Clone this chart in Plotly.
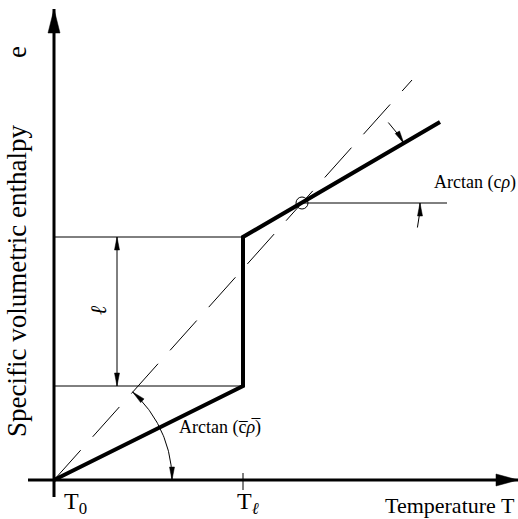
import numpy as np
import plotly.graph_objects as go

FONT = "Liberation Serif"

# ---- schematic data (drawing units: T horizontal, e vertical) ----
curve_T = [0, 189, 189, 386]          # enthalpy curve: solid, melting, liquid
curve_e = [0, 94, 243, 358]
T_l = 189                             # melting temperature
e_solid = 94                          # enthalpy at start of melting
e_liquid = 243                        # enthalpy at end of melting
ref_T = [0, 358]                      # dashed reference line
ref_e = [0, 400]
cross_T, cross_e = 248, 277           # intersection point (circle)
horiz_end_T = 393                     # horizontal construction line end
dim_T = 63                            # latent heat dimension line position
x_axis_T = [-26, 464]
y_axis_e = [-17, 471]
tick_e = [-10, 7]
arc_low_r = 118
arc_up_r = 118

fig = go.Figure()

def line(xs, ys, w=1, dash=None):
    fig.add_trace(go.Scatter(x=xs, y=ys, mode="lines",
                             line=dict(color="black", width=w, dash=dash),
                             hoverinfo="skip", showlegend=False))

def head(tip, d, length, width):
    d = np.array(d, float); d /= np.linalg.norm(d)
    n = np.array([-d[1], d[0]])
    tip = np.array(tip, float)
    base = tip - d * length
    p1 = base + n * width / 2
    p2 = base - n * width / 2
    fig.add_trace(go.Scatter(x=[tip[0], p1[0], p2[0], tip[0]],
                             y=[tip[1], p1[1], p2[1], tip[1]],
                             mode="lines", fill="toself", fillcolor="black",
                             line=dict(color="black", width=0.5),
                             hoverinfo="skip", showlegend=False))

# axes
line(x_axis_T, [0, 0], 3)
line([0, 0], y_axis_e, 3)
head((x_axis_T[1], 0), (1, 0), 22, 12)
head((0, y_axis_e[1]), (0, 1), 24, 12)
# tick at T_l
line([T_l, T_l], tick_e, 1)

# box lines
line([0, T_l], [e_solid, e_solid], 1)
line([0, T_l], [e_liquid, e_liquid], 1)
# dimension line for latent heat
line([dim_T, dim_T], [e_solid, e_liquid], 1)
head((dim_T, e_liquid), (0, 1), 13, 5)
head((dim_T, e_solid), (0, -1), 13, 5)

# dashed reference line
line(ref_T, ref_e, 1, dash="40px,18px")

# enthalpy curve
line(curve_T, curve_e, 4)

# horizontal line from intersection
line([cross_T, horiz_end_T], [cross_e, cross_e], 1)

# circle at intersection
fig.add_trace(go.Scatter(x=[cross_T], y=[cross_e], mode="markers",
                         marker=dict(symbol="circle-open", size=12,
                                     color="black", line=dict(width=1)),
                         hoverinfo="skip", showlegend=False))

# lower arc (angle of solid slope)
th_ref = np.arctan2(ref_e[1], ref_T[1])
th = np.linspace(0, th_ref, 60)
line(arc_low_r * np.cos(th), arc_low_r * np.sin(th), 1)
head((arc_low_r, 0), (0, -1), 13, 5)
head((arc_low_r * np.cos(th_ref), arc_low_r * np.sin(th_ref)),
     (-np.sin(th_ref), np.cos(th_ref)), 13, 5)

# upper arcs (angle of liquid slope) outside the angle
th_liq = np.arctan2(curve_e[3] - curve_e[2], curve_T[3] - curve_T[2])
th1 = np.linspace(np.radians(43), th_liq, 30)
line(cross_T + arc_up_r * np.cos(th1), cross_e + arc_up_r * np.sin(th1), 1)
head((cross_T + arc_up_r * np.cos(th_liq), cross_e + arc_up_r * np.sin(th_liq)),
     (np.sin(th_liq), -np.cos(th_liq)), 13, 5)
th2 = np.linspace(np.radians(-12), 0, 30)
line(cross_T + arc_up_r * np.cos(th2), cross_e + arc_up_r * np.sin(th2), 1)
head((cross_T + arc_up_r, cross_e), (0, 1), 13, 5)

ann = []
def text(x, y, s, size, xanchor="center", yanchor="middle", angle=0):
    ann.append(dict(x=x, y=y, xref="x", yref="y", text=s, showarrow=False,
                    xanchor=xanchor, yanchor=yanchor, textangle=angle,
                    font=dict(family=FONT, size=size, color="black")))

text(-37, 199, "Specific volumetric enthalpy", 27, angle=-90)
text(-37, 428, "e", 27, angle=-90)
text(463, -25, "Temperature T", 22, xanchor="right")
text(8, -23, "T<sub>0</sub>", 24, xanchor="left")
text(181, -23, "T<sub><i>ℓ</i></sub>", 24, xanchor="left")
text(44, 170, "<i>ℓ</i>", 22, angle=-90)
text(378, 298, "Arctan (c<i>ρ</i>)", 18, xanchor="left")
text(123, 53, "Arctan (c\u0305<i>ρ\u0305</i>)", 18, xanchor="left")

fig.update_layout(
    width=518, height=519, autosize=False,
    margin=dict(l=0, r=0, t=0, b=0),
    paper_bgcolor="white", plot_bgcolor="white",
    xaxis=dict(range=[-54, 464], visible=False, fixedrange=True),
    yaxis=dict(range=[-39, 480], visible=False, fixedrange=True),
    annotations=ann,
)

fig.write_html("out.html",
               config={"displayModeBar": False, "staticPlot": True},
               post_script="document.body.style.margin='0';"
                           "document.body.style.overflow='hidden';")
